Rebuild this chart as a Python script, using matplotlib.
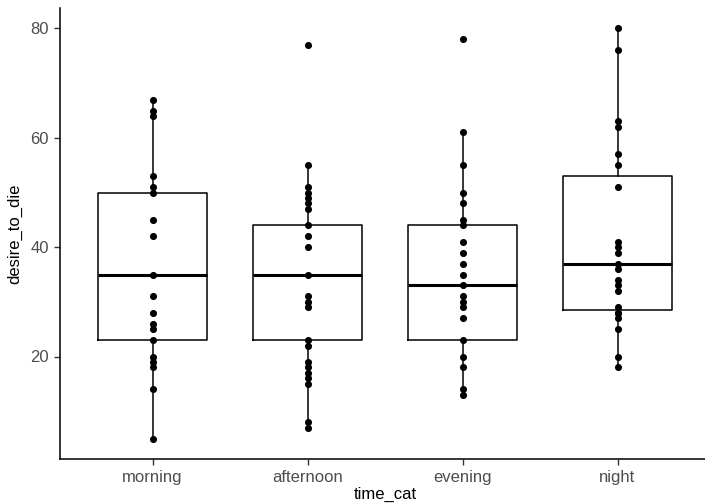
import matplotlib

matplotlib.use("Agg")
from matplotlib import pyplot as plt

plt.rcParams["font.family"] = ["Liberation Sans", "DejaVu Sans"]

categories = ["morning", "afternoon", "evening", "night"]

# individual observations per time category
morning = [67, 65, 64, 53, 51, 50, 45, 42, 35, 31, 28, 26, 25, 23, 20, 19, 18, 14, 5]
afternoon = [77, 55, 51, 50, 49, 48, 47, 44, 42, 40, 35, 31, 30, 29, 23, 22,
             19, 18, 17, 16, 15, 8, 7]
evening = [78, 61, 55, 50, 48, 45, 44, 41, 39, 37, 35, 33, 31, 30, 29, 27, 23,
           20, 18, 14, 13]
night = [80, 76, 63, 62, 57, 55, 51, 41, 40, 39, 37, 36, 34, 33, 32, 29, 28,
         28, 27, 25, 20, 18]
observations = [morning, afternoon, evening, night]

# box summaries: lower whisker, Q1, median, Q3, upper whisker
whisker_low = [5, 7, 13, 18]
q1 = [23, 23, 23, 28.5]
median = [35, 35, 33, 37]
q3 = [50, 44, 44, 53]
whisker_high = [67, 55, 61, 80]

y_ticks = [20, 40, 60, 80]

fig = plt.figure(figsize=(7.05, 5.03), dpi=100)
ax = fig.add_axes([59.5 / 705, 44 / 503, 651 / 705, 451 / 503])

positions = list(range(1, len(categories) + 1))
stats = [
    {"whislo": lo, "q1": a, "med": m, "q3": b, "whishi": hi, "fliers": []}
    for lo, a, m, b, hi in zip(whisker_low, q1, median, q3, whisker_high)
]
ax.bxp(
    stats,
    positions=positions,
    widths=0.7,
    showcaps=False,
    showfliers=False,
    boxprops={"color": "black", "linewidth": 1.1},
    whiskerprops={"color": "black", "linewidth": 1.1},
    medianprops={"color": "black", "linewidth": 2.2},
)

for pos, values in zip(positions, observations):
    ax.scatter([pos] * len(values), values, s=26, color="black", zorder=3, linewidths=0)

ax.set_xlim(0.4, 4.6)
ax.set_ylim(1.25, 83.75)
ax.set_xticks(positions)
ax.set_xticklabels(categories)
ax.set_yticks(y_ticks)
ax.tick_params(axis="both", labelsize=12, labelcolor="#4D4D4D", color="#333333",
               length=4, width=1.0)
ax.tick_params(axis="x", pad=4)
ax.set_xlabel("time_cat", fontsize=12, color="black", labelpad=1)
ax.set_ylabel("desire_to_die", fontsize=12, color="black", labelpad=6)

for side in ("top", "right"):
    ax.spines[side].set_visible(False)
for side in ("left", "bottom"):
    ax.spines[side].set_linewidth(1.1)
    ax.spines[side].set_color("black")

fig.savefig("out.png", dpi=100, facecolor="white")
